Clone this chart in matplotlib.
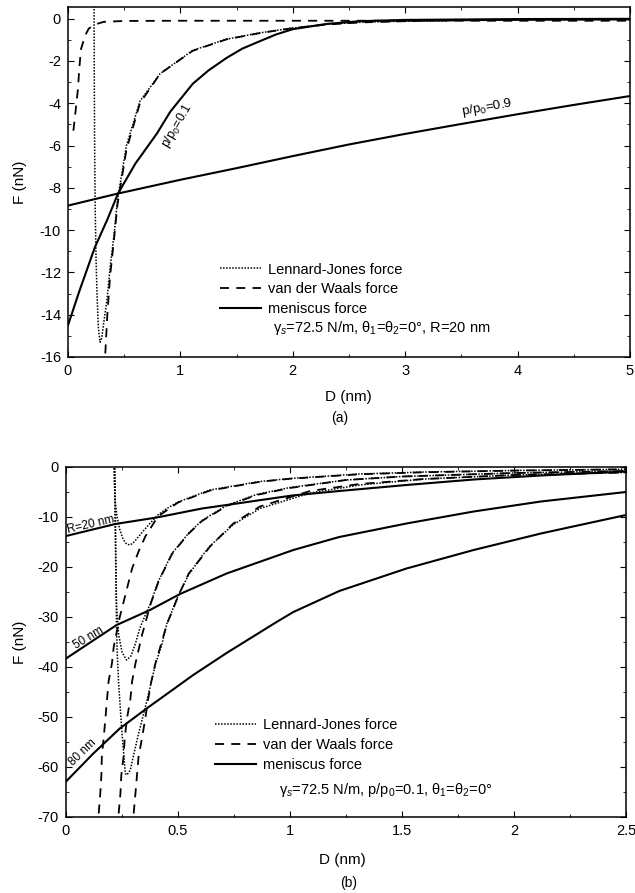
import matplotlib.pyplot as plt
from matplotlib.ticker import MultipleLocator
from matplotlib.lines import Line2D

plt.rcParams["font.family"] = ["Liberation Sans", "DejaVu Sans"]
plt.rcParams["mathtext.fontset"] = "custom"
plt.rcParams["mathtext.rm"] = "Liberation Sans"
plt.rcParams["mathtext.it"] = "Liberation Sans:italic"
plt.rcParams["axes.unicode_minus"] = False

# ========= (a) R = 20 nm, two humidities =========

# meniscus force, p/p0 = 0.1
D_men01 = [0, 0.1, 0.24, 0.35, 0.445, 0.6, 0.79, 0.91, 1.11, 1.25, 1.41, 1.55,
           1.71, 1.85, 2.0, 2.3, 2.6, 3.0, 4.0, 5.0]
F_men01 = [-14.5, -12.9, -10.8, -9.5, -8.27, -6.85, -5.44, -4.4, -3.08, -2.45,
           -1.86, -1.42, -1.06, -0.75, -0.5, -0.25, -0.12, -0.06, -0.02, -0.01]

# meniscus force, p/p0 = 0.9
D_men09 = [0, 0.445, 1.0, 1.5, 2.0, 2.5, 3.0, 3.5, 4.0, 4.5, 5.0]
F_men09 = [-8.84, -8.27, -7.62, -7.07, -6.5, -5.95, -5.45, -4.98, -4.52, -4.08, -3.66]

# Lennard-Jones force
D_lj_a = [0.232, 0.234, 0.237, 0.242, 0.25, 0.26, 0.27, 0.285, 0.30, 0.32, 0.347,
          0.374, 0.41, 0.44, 0.52, 0.64, 0.82, 1.11, 1.41, 1.71, 2.0, 2.3, 2.6,
          3.0, 3.5, 4.0, 4.5, 5.0]
F_lj_a = [0.6, -3.0, -6.0, -9.0, -11.5, -13.3, -14.6, -15.3, -15.1, -14.3, -13.3,
          -11.8, -10.2, -8.6, -6.0, -3.9, -2.6, -1.5, -0.97, -0.67, -0.44, -0.27,
          -0.17, -0.12, -0.08, -0.06, -0.05, -0.04]

# van der Waals force
D_vdw_a = [0.325, 0.335, 0.35, 0.374, 0.41, 0.44, 0.52, 0.64, 0.82, 1.11, 1.41,
           1.71, 2.0, 2.3, 2.6, 3.0, 3.5, 4.0, 4.5, 5.0]
F_vdw_a = [-16.6, -15.5, -14.0, -12.2, -10.4, -8.8, -6.2, -4.0, -2.6, -1.52, -0.98,
           -0.68, -0.45, -0.28, -0.18, -0.12, -0.08, -0.06, -0.05, -0.04]

D_vdw_a2 = [0.048, 0.071, 0.089, 0.10, 0.116, 0.155, 0.185, 0.243, 0.32, 0.5,
            1.0, 2.0, 3.0, 4.0, 5.0]
F_vdw_a2 = [-5.3, -4.2, -3.3, -2.38, -1.43, -0.77, -0.47, -0.27, -0.15, -0.11,
            -0.1, -0.1, -0.1, -0.1, -0.1]

# ========= (b) p/p0 = 0.1, three tip radii =========

D_men20 = [0, 0.22, 0.405, 0.607, 0.717, 1.01, 1.22, 1.52, 1.82, 2.12, 2.5]
F_men20 = [-13.8, -11.4, -10.1, -8.3, -7.6, -5.7, -4.8, -3.6, -2.5, -1.7, -0.9]

D_men50 = [0, 0.226, 0.375, 0.509, 0.717, 1.015, 1.22, 1.52, 1.82, 2.12, 2.5]
F_men50 = [-38.3, -31.6, -28.6, -25.4, -21.3, -16.6, -14.0, -11.3, -8.9, -6.9, -5.0]

D_men80 = [0, 0.122, 0.24, 0.36, 0.568, 0.717, 0.94, 1.015, 1.22, 1.52, 1.82, 2.12, 2.5]
F_men80 = [-62.9, -57.3, -52.3, -48.3, -41.6, -37.2, -31.0, -29.0, -24.8, -20.3,
           -16.6, -13.3, -9.6]

D_lj20 = [0.214, 0.216, 0.22, 0.228, 0.24, 0.255, 0.27, 0.285, 0.30, 0.33, 0.37,
          0.41, 0.45, 0.5, 0.643, 0.866, 1.0, 1.31, 1.6, 2.0, 2.5]
F_lj20 = [1, -3, -7, -10, -12.5, -14.5, -15.4, -15.6, -15.2, -13.6, -11.5, -9.6,
          -8.3, -7.0, -4.6, -2.9, -2.3, -1.4, -1.0, -0.7, -0.45]

D_lj50 = [0.216, 0.219, 0.222, 0.226, 0.235, 0.25, 0.27, 0.29, 0.31, 0.33, 0.355,
          0.377, 0.413, 0.473, 0.548, 0.607, 0.717, 0.85, 1.0, 1.25, 1.5, 2.0, 2.5]
F_lj50 = [1, -10, -20, -28, -33.5, -37, -38.6, -37.8, -35.3, -32.2, -29.5, -27.3,
          -22.8, -17.3, -13.2, -10.7, -7.7, -5.5, -4.1, -2.6, -1.9, -1.2, -0.8]

D_lj80 = [0.218, 0.222, 0.225, 0.228, 0.235, 0.25, 0.265, 0.272, 0.287, 0.305,
          0.324, 0.362, 0.399, 0.428, 0.45, 0.503, 0.548, 0.607, 0.643, 0.747,
          0.866, 1.09, 1.31, 1.6, 2.0, 2.5]
F_lj80 = [1, -15, -30, -36.6, -43.3, -53.3, -61.3, -61.6, -60.6, -57.0, -53.3,
          -46.6, -39.5, -35.5, -31.4, -25.5, -21.5, -17.8, -15.8, -11.5, -8.3,
          -5.2, -3.6, -2.4, -1.6, -1.1]

D_vdw20 = [0.146, 0.153, 0.158, 0.16, 0.168, 0.176, 0.183, 0.19, 0.205, 0.213,
           0.24, 0.265, 0.295, 0.324, 0.354, 0.41, 0.5, 0.643, 0.866, 1.0, 1.31,
           1.6, 2.0, 2.5]
F_vdw20 = [-69.3, -65.3, -61.6, -57.9, -54.3, -50.3, -46.6, -42.9, -39.3, -36.0,
           -30.0, -25.6, -20.3, -16.9, -13.9, -9.9, -7.1, -4.7, -2.95, -2.35,
           -1.45, -1.05, -0.72, -0.47]

D_vdw50 = [0.235, 0.243, 0.247, 0.257, 0.262, 0.272, 0.287, 0.295, 0.31, 0.34,
           0.377, 0.413, 0.473, 0.548, 0.607, 0.717, 0.85, 1.0, 1.25, 1.5, 2.0, 2.5]
F_vdw50 = [-69.3, -65.3, -61.6, -57.9, -54.3, -50.3, -46.6, -42.9, -39.3, -33.5,
           -27.5, -22.9, -17.4, -13.3, -10.8, -7.8, -5.6, -4.2, -2.6, -1.9, -1.2, -0.8]

D_vdw80 = [0.302, 0.31, 0.317, 0.324, 0.339, 0.354, 0.366, 0.381, 0.399, 0.413,
           0.45, 0.503, 0.548, 0.607, 0.643, 0.747, 0.866, 1.09, 1.31, 1.6, 2.0, 2.5]
F_vdw80 = [-69.3, -65.3, -61.6, -57.9, -54.3, -50.3, -46.6, -42.9, -39.3, -37.2,
           -31.5, -25.6, -21.3, -18.0, -15.9, -11.3, -7.9, -4.8, -3.4, -2.4, -1.6, -1.1]

LJ = dict(color="k", lw=1.1, linestyle=(0, (1, 1)))
VDW = dict(color="k", lw=1.3, linestyle=(0, (5, 4)))
MEN = dict(color="k", lw=1.5, linestyle="-")


def style_axes(ax):
    ax.tick_params(which="both", direction="in", top=True, right=True,
                   labelsize=10.5, pad=5)
    ax.tick_params(which="major", length=4)
    ax.tick_params(which="minor", length=2)
    for sp in ax.spines.values():
        sp.set_linewidth(1.1)


def add_legend(ax, anchor):
    handles = [Line2D([], [], **LJ), Line2D([], [], **VDW), Line2D([], [], **MEN)]
    labels = ["Lennard-Jones force", "van der Waals force", "meniscus force"]
    ax.legend(handles, labels, loc="upper left", bbox_to_anchor=anchor,
              frameon=False, fontsize=10.5, handlelength=2.8, handletextpad=0.5,
              labelspacing=0.4, borderpad=0, borderaxespad=0)


fig = plt.figure(figsize=(6.35, 8.93), dpi=100)

# ---- panel (a) ----
ax1 = fig.add_axes([68 / 635, 1 - 357 / 893, 562 / 635, 350 / 893])
ax1.plot(D_men01, F_men01, **MEN)
ax1.plot(D_men09, F_men09, **MEN)
ax1.plot(D_lj_a, F_lj_a, **LJ)
ax1.plot(D_vdw_a, F_vdw_a, **VDW)
ax1.plot(D_vdw_a2, F_vdw_a2, **VDW)
ax1.set_xlim(0, 5)
ax1.set_ylim(-16, 0.55)
ax1.set_xticks(range(0, 6))
ax1.set_yticks(range(-16, 1, 2))
ax1.xaxis.set_minor_locator(MultipleLocator(0.5))
ax1.yaxis.set_minor_locator(MultipleLocator(1))
style_axes(ax1)
ax1.text(0.97, -5.05, "p/p$_0$=0.1", rotation=60, fontsize=9,
         ha="center", va="center")
ax1.text(3.73, -4.22, "p/p$_0$=0.9", rotation=10, fontsize=9.5,
         ha="center", va="center")
add_legend(ax1, (0.27, 0.27))
ax1.text(0.365, 0.083, "γ$_s$=72.5 N/m, θ$_1$=θ$_2$=0°, R=20 nm", fontsize=10.5,
         transform=ax1.transAxes, va="center")

# ---- panel (b) ----
ax2 = fig.add_axes([66 / 635, 1 - 817 / 893, 560 / 635, 350 / 893])
for D, F in [(D_men20, F_men20), (D_men50, F_men50), (D_men80, F_men80)]:
    ax2.plot(D, F, **MEN)
for D, F in [(D_lj20, F_lj20), (D_lj50, F_lj50), (D_lj80, F_lj80)]:
    ax2.plot(D, F, **LJ)
for D, F in [(D_vdw20, F_vdw20), (D_vdw50, F_vdw50), (D_vdw80, F_vdw80)]:
    ax2.plot(D, F, **VDW)
ax2.set_xlim(0, 2.5)
ax2.set_ylim(-70, 0)
ax2.set_xticks([0, 0.5, 1, 1.5, 2, 2.5])
ax2.set_xticklabels(["0", "0.5", "1", "1.5", "2", "2.5"])
ax2.set_yticks(range(-70, 1, 10))
ax2.xaxis.set_minor_locator(MultipleLocator(0.25))
ax2.yaxis.set_minor_locator(MultipleLocator(5))
style_axes(ax2)
ax2.text(0.112, -11.6, "R=20 nm", rotation=13, fontsize=8.5, ha="center", va="center")
ax2.text(0.103, -34.2, "50 nm", rotation=31, fontsize=8.5, ha="center", va="center")
ax2.text(0.076, -57.0, "80 nm", rotation=44, fontsize=8.5, ha="center", va="center")
add_legend(ax2, (0.266, 0.283))
ax2.text(0.38, 0.078, "γ$_s$=72.5 N/m, p/p$_0$=0.1, θ$_1$=θ$_2$=0°", fontsize=10.5,
         transform=ax2.transAxes, va="center")

# axis titles and panel tags
for yc in (182, 642):
    fig.text(20 / 635, 1 - yc / 893, "F (nN)", rotation=90, fontsize=11,
             ha="center", va="center")
fig.text(348 / 635, 1 - 397 / 893, "D (nm)", fontsize=11, ha="center", va="center")
fig.text(340 / 635, 1 - 418 / 893, "(a)", fontsize=10, ha="center", va="center")
fig.text(342 / 635, 1 - 860 / 893, "D (nm)", fontsize=11, ha="center", va="center")
fig.text(349 / 635, 1 - 883 / 893, "(b)", fontsize=10, ha="center", va="center")

fig.savefig("out.png", dpi=100)
